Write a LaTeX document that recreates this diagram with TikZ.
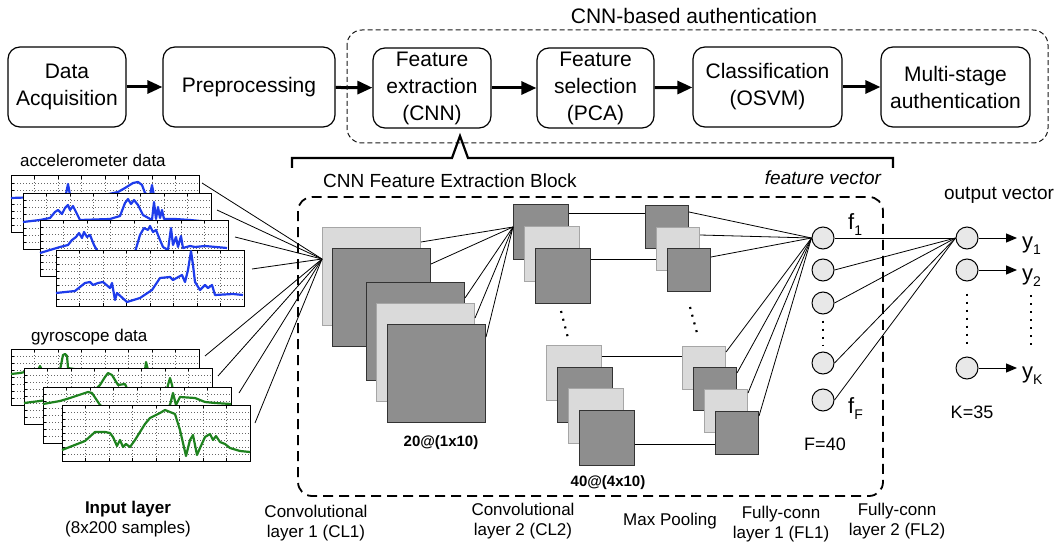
\documentclass[tikz,border=0pt]{standalone}
\usepackage{fontspec}
\setmainfont{Liberation Sans}
\usetikzlibrary{arrows.meta,calc}

\definecolor{darksq}{RGB}{142,142,142}
\definecolor{lightsq}{RGB}{218,218,218}
\definecolor{accblue}{RGB}{30,60,235}
\definecolor{gyrogreen}{RGB}{30,130,30}
\definecolor{unitfill}{RGB}{232,232,232}

%empty chart, top left corner at (#1,#2)
\newcommand{\chartframe}[2]{%
  \fill[white] (#1,#2) rectangle ++(188,56);
  \foreach \i in {1,...,7} {
    \draw[gridline] (#1+\i*23.5,#2) -- ++(0,56);
    \draw[tickline] (#1+\i*23.5,#2) -- ++(0,3);
    \draw[tickline] (#1+\i*23.5,#2+56) -- ++(0,-3);
    \draw[gridline] (#1,#2+\i*7) -- ++(188,0);
    \draw[tickline] (#1,#2+\i*7) -- ++(3,0);
  }
  \draw[line width=1pt] (#1,#2) rectangle ++(188,56);
}
\newcommand{\lowsub}[1]{\raisebox{-6pt}{\fontsize{14}{14}\selectfont #1}}

\begin{document}
\begin{tikzpicture}[x=1pt,y=-1pt,
  stage/.style={draw,line width=1.2pt,rounded corners=12pt,align=center,inner sep=0pt,minimum height=80pt,font=\fontsize{21}{27}\selectfont},
  flow/.style={line width=3pt,-{Triangle[length=15pt,width=13pt]}},
  dsq/.style={draw=black!80,fill=darksq,line width=1pt,anchor=north west,inner sep=0pt},
  lsq/.style={draw=black!35,fill=lightsq,line width=1pt,anchor=north west,inner sep=0pt},
  sqbig/.style={minimum size=98pt},
  sqmid/.style={minimum size=55pt},
  sqsmall/.style={minimum size=43pt},
  unit/.style={circle,draw,fill=unitfill,line width=1pt,minimum size=22pt,inner sep=0pt},
  wire/.style={line width=0.8pt},
  outarrow/.style={line width=1pt,-{Triangle[length=11pt,width=9pt]}},
  dotrow/.style={line width=2.2pt,dash pattern=on 2pt off 6pt},
  gridline/.style={black!60,line width=0.6pt,dash pattern=on 1pt off 2pt},
  tickline/.style={line width=0.6pt},
  lbl17/.style={inner sep=0pt,align=center,font=\fontsize{17}{20}\selectfont},
  lbl19/.style={inner sep=0pt,font=\fontsize{19}{23}\selectfont},
  curve/.style={line width=2.2pt,line join=round}
]
\useasboundingbox (0,0) rectangle (1059,548);

%pipeline
\node[stage,minimum width=118pt] (acq) at (67,87) {Data\\Acquisition};
\node[stage,minimum width=172pt] (pre) at (249,87) {Preprocessing};
\node[stage,minimum width=118pt] (fex) at (432,88) {Feature\\extraction\\(CNN)};
\node[stage,minimum width=117pt] (fsel) at (595.5,88) {Feature\\selection\\(PCA)};
\node[stage,minimum width=149pt] (cls) at (767.5,87) {Classification\\(OSVM)};
\node[stage,minimum width=149pt] (msa) at (955.5,87) {Multi-stage\\authentication};
\draw[flow] (acq) -- (pre);
\draw[flow] (pre) -- (fex);
\draw[flow] (fex) -- (fsel);
\draw[flow] (fsel) -- (cls);
\draw[flow] (cls) -- (msa);

\draw[black!90,line width=1pt,dash pattern=on 5pt off 3pt,rounded corners=15pt] (347,30) rectangle (1048,143);
\node[anchor=base,inner sep=0pt,font=\fontsize{21}{25}\selectfont] (authlbl) at (694,24) {CNN-based authentication};

%brace
\draw[line width=2.2pt] (292,168) -- (292,158) -- (452,158) -- (460,136) -- (468,158) -- (893,158) -- (893,168);
\node[lbl19,anchor=base west] (blocklbl) at (323,187) {CNN Feature Extraction Block};
\node[lbl19,anchor=base,font=\fontsize{19}{23}\selectfont\itshape] (fvlbl) at (823,185) {feature vector};
\node[lbl19,anchor=base] (ovlbl) at (999,200) {output vector};

%input charts
\node[lbl17,anchor=base west] (acclbl) at (20,167) {accelerometer data};
\chartframe{11}{176}
\draw[curve,accblue] (11,198) -- (40,197) -- (60,196) -- (66,194) -- (68,184) -- (70,195) -- (100,196) -- (118,192) -- (125,188) -- (133,183) -- (138,182) -- (142,185) -- (145,193) -- (150,196) -- (152,185) -- (154,196) -- (199,197);
\chartframe{23}{193}
\draw[curve,accblue] (23,222) -- (40,220) -- (50,218) -- (55,212) -- (58,210) -- (62,214) -- (65,208) -- (68,205) -- (70,210) -- (73,206) -- (76,212) -- (80,220) -- (110,219) -- (120,216) -- (125,203) -- (128,199) -- (131,204) -- (134,200) -- (138,205) -- (143,215) -- (152,220) -- (154,202) -- (156,219) -- (158,207) -- (160,218) -- (162,210) -- (164,219) -- (175,219) -- (190,220) -- (211,222);
\chartframe{40}{220}
\draw[curve,accblue] (40,253) -- (50,250) -- (60,247) -- (68,245) -- (72,240) -- (76,237) -- (79,233) -- (82,238) -- (84,232) -- (87,237) -- (90,235) -- (94,245) -- (98,252) -- (135,252) -- (140,235) -- (144,228) -- (148,230) -- (150,226) -- (153,232) -- (156,230) -- (160,240) -- (163,247) -- (168,250) -- (171,228) -- (173,245) -- (176,237) -- (178,247) -- (181,236) -- (183,248) -- (190,246) -- (195,247) -- (205,246) -- (227,248);
\chartframe{56}{250}
\draw[curve,accblue] (56,293) -- (75,291) -- (80,287) -- (85,283) -- (90,282) -- (93,285) -- (98,283) -- (103,282) -- (110,288) -- (112,283) -- (115,300) -- (117,293) -- (127,302) -- (140,298) -- (152,290) -- (160,278) -- (170,277) -- (173,280) -- (182,275) -- (185,282) -- (188,270) -- (191,251) -- (193,265) -- (195,282) -- (200,290) -- (205,285) -- (208,288) -- (212,285) -- (215,295) -- (233,294) -- (243,295);

\node[lbl17,anchor=base west] (gyrlbl) at (31,341) {gyroscope data};
\chartframe{11}{349}
\draw[curve,gyrogreen] (11,374) -- (20,373) -- (25,372) -- (38,370) -- (40,366) -- (42,370) -- (60,370) -- (63,355) -- (65,354) -- (67,356) -- (68,368) -- (80,370) -- (145,370) -- (146,362) -- (148,370) -- (199,371);
\chartframe{24}{368}
\draw[curve,gyrogreen] (24,403) -- (40,401) -- (60,398) -- (90,395) -- (100,385) -- (105,377) -- (108,373) -- (112,375) -- (118,385) -- (125,384) -- (130,395) -- (160,400) -- (165,400) -- (168,385) -- (170,378) -- (172,385) -- (175,400) -- (212,402);
\chartframe{43}{387}
\draw[curve,gyrogreen] (43,404) -- (60,401) -- (70,398) -- (88,392) -- (92,393) -- (100,405) -- (110,412) -- (165,410) -- (170,405) -- (173,393) -- (176,405) -- (180,397) -- (195,398) -- (205,402) -- (215,403) -- (231,404);
\chartframe{62}{405}
\draw[curve,gyrogreen] (62,450) -- (85,441) -- (95,432) -- (105,432) -- (110,433) -- (113,437) -- (117,446) -- (120,440) -- (123,447) -- (126,444) -- (130,447) -- (135,440) -- (145,424) -- (150,418) -- (160,413) -- (165,410) -- (170,412) -- (175,414) -- (180,430) -- (183,443) -- (186,456) -- (190,440) -- (193,435) -- (197,455) -- (200,448) -- (205,437) -- (210,434) -- (213,440) -- (216,436) -- (220,442) -- (225,444) -- (230,448) -- (240,451) -- (250,452);
\node[lbl17] (inlbl) at (128,519) {\textbf{Input layer}\\(8x200 samples)};

%CNN block
\draw[line width=1.8pt,dash pattern=on 10pt off 6pt,rounded corners=14pt] (298,197) rectangle (883,496);

%conv layer 1
\node[lsq,sqbig] (c1a) at (322,227) {};
\node[dsq,sqbig] (c1b) at (332,248) {};
\node[dsq,sqbig] (c1c) at (366,282) {};
\node[lsq,sqbig] (c1d) at (376,303) {};
\node[dsq,sqbig] (c1e) at (387,324) {};
\node[anchor=base,inner sep=0pt,font=\fontsize{15}{18}\selectfont\bfseries] (c1lbl) at (441,446) {20@(1x10)};

%conv layer 2
\node[dsq,sqmid] (c2a) at (513,204) {};
\node[lsq,sqmid] (c2b) at (524,226) {};
\node[dsq,sqmid] (c2c) at (535,248) {};
\node[lsq,sqmid] (c2d) at (546,345) {};
\node[dsq,sqmid] (c2e) at (557,367) {};
\node[lsq,sqmid] (c2f) at (568,388) {};
\node[dsq,sqmid] (c2g) at (579,410) {};
\node[anchor=base,inner sep=0pt,font=\fontsize{15}{18}\selectfont\bfseries] (c2lbl) at (608,486) {40@(4x10)};

%max pooling
\node[dsq,sqsmall] (p1) at (645,205) {};
\node[lsq,sqsmall] (p2) at (656,227) {};
\node[dsq,sqsmall] (p3) at (667,248) {};
\node[lsq,sqsmall] (p4) at (682,346) {};
\node[dsq,sqsmall] (p5) at (693,367) {};
\node[lsq,sqsmall] (p6) at (704,389) {};
\node[dsq,sqsmall] (p7) at (715,411) {};

\draw[dotrow] ($(c2c.south west)+(26,7)$) -- ($(c2d.north west)+(22,-7)$);
\draw[dotrow] ($(p3.south west)+(23,15)$) -- ($(p4.north west)+(15,-13)$);

%fully connected units
\node[unit] (f1) at (823,238) {};
\node[unit] (f2) at (823,270) {};
\node[unit] (f3) at (823,303) {};
\node[unit] (f4) at (823,363) {};
\node[unit] (f5) at (823,400) {};
\draw[dotrow] ($(f3.south)+(0,6)$) -- ($(f4.north)+(0,-6)$);
\node[anchor=base west,inner sep=0pt,font=\fontsize{22}{26}\selectfont] (f1lbl) at (848,229) {f\lowsub{1}};
\node[anchor=base west,inner sep=0pt,font=\fontsize{22}{26}\selectfont] (f5lbl) at (848,413) {f\lowsub{F}};
\node[lbl17,font=\fontsize{18}{22}\selectfont,anchor=base] (flbl) at (825,450) {F=40};

\node[unit] (o1) at (967,238) {};
\node[unit] (o2) at (967,270) {};
\node[unit] (oK) at (967,368) {};
\draw[dotrow] ($(o2.south)+(0,12)$) -- ($(oK.north)+(0,-10)$);
\node[lbl17,font=\fontsize{18}{22}\selectfont,anchor=base] (klbl) at (972,418) {K=35};

\coordinate (e1) at (1017,238);
\coordinate (e2) at (1017,270);
\coordinate (eK) at (1017,368);
\draw[outarrow] (o1) -- (e1);
\draw[outarrow] (o2) -- (e2);
\draw[outarrow] (oK) -- (eK);
\node[anchor=base west,inner sep=0pt,font=\fontsize{22}{26}\selectfont] (y1lbl) at (1022,248) {y\lowsub{1}};
\node[anchor=base west,inner sep=0pt,font=\fontsize{22}{26}\selectfont] (y2lbl) at (1022,280) {y\lowsub{2}};
\node[anchor=base west,inner sep=0pt,font=\fontsize{22}{26}\selectfont] (yKlbl) at (1022,378) {y\lowsub{K}};
\draw[dotrow] (1031,295) -- (1031,347);

%wires input -> conv1
\coordinate (cin) at ($(c1a.north west)+(0,32)$);
\coordinate (a1) at (202,183);
\coordinate (a2) at (217,210);
\coordinate (a3) at (235,237);
\coordinate (a4) at (252,269);
\coordinate (g1) at (205,356);
\coordinate (g2) at (218,376);
\coordinate (g3) at (239,393);
\coordinate (g4) at (255,423);
\foreach \s in {a1,a2,a3,a4,g1,g2,g3,g4}
  \draw[wire] (\s) -- (cin);

%wires conv1 -> conv2
\coordinate (c2in) at ($(c2a.north west)+(0,23)$);
\draw[wire] ($(c1a.north east)+(0,15)$) -- (c2in);
\draw[wire] ($(c1b.north east)+(0,16)$) -- (c2in);
\draw[wire] ($(c1c.north east)+(0,16)$) -- (c2in);
\draw[wire] ($(c1d.north east)+(0,15)$) -- (c2in);
\draw[wire] ($(c1e.north east)+(0,13)$) -- (c2in);

%wires conv2 -> pooling
\draw[wire] ($(c2a.north east)+(0,9)$) -- ($(p1.north west)+(0,8)$);
\draw[wire] ($(c2c.north east)+(0,11)$) -- ($(p2.north west)+(0,32)$);
\draw[wire] ($(c2d.north east)+(0,11)$) -- ($(p4.north west)+(0,10)$);
\draw[wire] ($(c2g.north east)+(0,34)$) -- ($(p7.north west)+(0,33)$);

%wires pooling -> fc1
\draw[wire] ($(p1.north east)+(0,7)$) -- (f1.west);
\draw[wire] ($(p2.north east)+(0,8)$) -- (f1.west);
\draw[wire] ($(p3.north east)+(0,9)$) -- (f1.west);
\draw[wire] ($(p4.north east)+(0,6)$) -- (f1.west);
\draw[wire] ($(p5.north east)+(0,6)$) -- (f1.west);
\draw[wire] ($(p6.north east)+(0,4)$) -- (f1.west);
\draw[wire] ($(p7.north east)+(0,5)$) -- (f1.west);

%wires fc1 -> fc2
\foreach \u in {f1,f2,f3,f4,f5}
  \draw[wire] (\u.east) -- (o1.west);

%layer names
\node[lbl17] (cl1lbl) at (316,523) {Convolutional\\layer 1 (CL1)};
\node[lbl17] (cl2lbl) at (523,521) {Convolutional\\layer 2 (CL2)};
\node[lbl17] (mplbl) at (670,521) {Max Pooling};
\node[lbl17] (fl1lbl) at (781,524) {Fully-conn\\layer 1 (FL1)};
\node[lbl17] (fl2lbl) at (897,521) {Fully-conn\\layer 2 (FL2)};

\end{tikzpicture}
\end{document}
